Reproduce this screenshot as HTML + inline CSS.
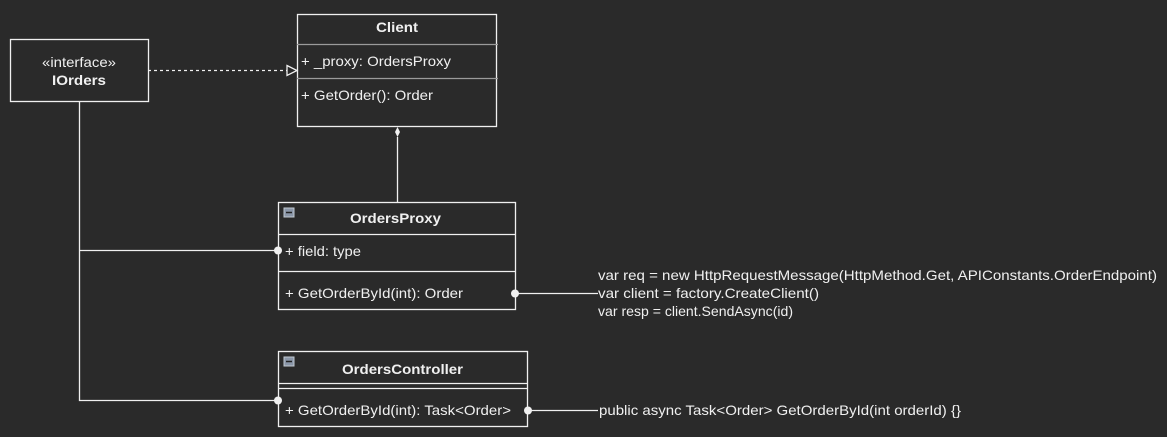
<!DOCTYPE html>
<html><head><style>html,body{margin:0;padding:0;background:#2a2a2a;}svg{display:block}text{font-family:"Liberation Sans",Arial,sans-serif;fill:#f0f0f0;font-size:14px}</style></head>
<body>
<svg width="1167" height="437" viewBox="0 0 1167 437" xmlns="http://www.w3.org/2000/svg">
<rect width="1167" height="437" fill="#2a2a2a"/>
<g stroke="#f0f0f0" fill="none" stroke-width="1.3">
<rect x="10.5" y="39.5" width="138" height="62"/>
<rect x="297.5" y="14.5" width="199" height="112"/>
<line x1="297" y1="44.5" x2="498" y2="44.5" stroke="#9a9a9a"/>
<line x1="297" y1="78.5" x2="498" y2="78.5" stroke="#9a9a9a"/>
<rect x="278.5" y="202.5" width="237" height="107"/>
<line x1="278" y1="234.5" x2="515" y2="234.5"/>
<line x1="278" y1="271.5" x2="515" y2="271.5"/>
<rect x="278.5" y="351.5" width="249" height="75"/>
<line x1="278" y1="383.5" x2="527" y2="383.5"/>
<line x1="278" y1="388.5" x2="527" y2="388.5"/>
<line x1="148" y1="70.5" x2="287" y2="70.5" stroke-dasharray="3,3"/>
<polygon points="287,65.5 297,70.5 287,75.5" fill="#2a2a2a"/>
<line x1="397.5" y1="137" x2="397.5" y2="202"/>
<polyline points="79.5,101 79.5,400.5 278,400.5"/>
<line x1="79" y1="250.5" x2="278" y2="250.5"/>
<line x1="515" y1="293.5" x2="598" y2="293.5"/>
<line x1="528" y1="410.5" x2="598" y2="410.5"/>
</g>
<polygon points="397.5,127 400,132 397.5,137 395,132" fill="#f0f0f0"/>
<g fill="#f0f0f0">
<circle cx="278" cy="250.5" r="4"/>
<circle cx="278" cy="400.5" r="4"/>
<circle cx="515" cy="293.5" r="4"/>
<circle cx="528" cy="410.5" r="4"/>
</g>
<rect x="284" y="208" width="10" height="9" fill="#8a96a8" stroke="#c0c8d0" stroke-width="1"/>
<line x1="286" y1="212.5" x2="292" y2="212.5" stroke="#222" stroke-width="1.5"/>
<rect x="284" y="357" width="10" height="9" fill="#8a96a8" stroke="#c0c8d0" stroke-width="1"/>
<line x1="286" y1="361.5" x2="292" y2="361.5" stroke="#222" stroke-width="1.5"/>

<text x="42" y="67" textLength="74" lengthAdjust="spacingAndGlyphs">«interface»</text>
<text x="52" y="85" font-weight="bold" textLength="54" lengthAdjust="spacingAndGlyphs">IOrders</text>
<text x="376" y="32" font-weight="bold" textLength="42" lengthAdjust="spacingAndGlyphs">Client</text>
<text x="301" y="66" textLength="150" lengthAdjust="spacingAndGlyphs">+ _proxy: OrdersProxy</text>
<text x="301" y="100" textLength="132" lengthAdjust="spacingAndGlyphs">+ GetOrder(): Order</text>
<text x="350" y="223" font-weight="bold" textLength="91" lengthAdjust="spacingAndGlyphs">OrdersProxy</text>
<text x="285" y="256" textLength="76" lengthAdjust="spacingAndGlyphs">+ field: type</text>
<text x="285" y="298" textLength="178" lengthAdjust="spacingAndGlyphs">+ GetOrderById(int): Order</text>
<text x="342" y="374" font-weight="bold" textLength="121" lengthAdjust="spacingAndGlyphs">OrdersController</text>
<text x="285" y="415" textLength="226" lengthAdjust="spacingAndGlyphs">+ GetOrderById(int): Task&lt;Order&gt;</text>
<text x="598" y="280" textLength="559" lengthAdjust="spacingAndGlyphs">var req = new HttpRequestMessage(HttpMethod.Get, APIConstants.OrderEndpoint)</text>
<text x="598" y="298" textLength="221" lengthAdjust="spacingAndGlyphs">var client = factory.CreateClient()</text>
<text x="598" y="316" textLength="195" lengthAdjust="spacingAndGlyphs">var resp = client.SendAsync(id)</text>
<text x="599" y="415" textLength="362" lengthAdjust="spacingAndGlyphs">public async Task&lt;Order&gt; GetOrderById(int orderId) {}</text>
</svg>
</body></html>
